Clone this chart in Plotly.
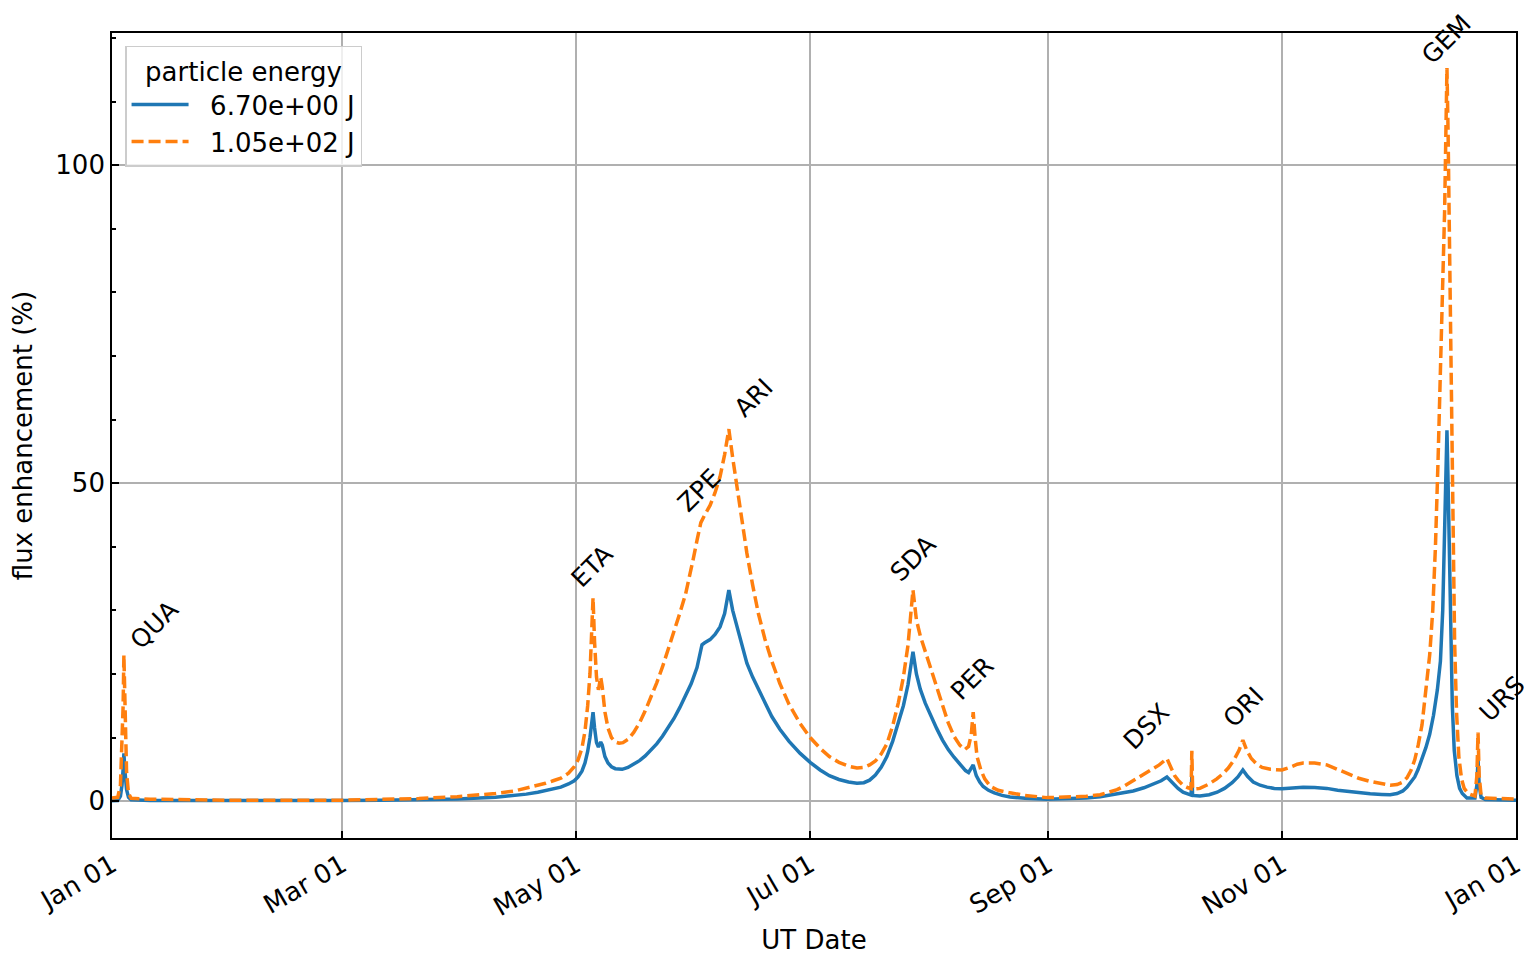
import pandas as pd
import plotly.graph_objects as go

# ---- data (day offset from 2024-01-01, value in %) ----
blue_days = [0, 1.5, 2.2, 2.6, 2.9, 3.1, 3.4, 3.8, 4.3, 5, 10, 30, 60, 70, 80, 90, 100, 105, 108, 111, 113, 115, 117,
             119, 120.5, 121.5, 122.5, 123.3, 124, 124.6, 125.0, 125.4, 125.8, 126.3, 126.8, 127.4, 127.8, 128.5,
             129.3, 130.2, 131.2, 132.2, 133, 134.5, 136, 137.6, 139, 140.5, 142, 143.5, 145, 146.5, 148, 149.5,
             151, 152.5, 153.8, 154.5, 155.9, 157.2, 158.5, 159.7, 160.8, 161.8, 162.9, 164.2, 165.5, 167, 168.5,
             170.2, 172, 174.1, 176.5, 179.4, 182, 184.6, 187, 189.5, 192, 194.2, 196, 197.5, 199, 200.5, 202,
             203.5, 205, 206.3, 207.5, 208.8, 209.7, 210.7, 212, 213.5, 215, 216.5, 218, 219.5, 221, 222.5, 223.3,
             224.5, 225.3, 226.2, 227.1, 228.5, 230, 232, 234.1, 238, 243.7, 250, 254, 257.6, 262, 266.2, 269,
             271.5, 273.5, 275, 276.3, 277.9, 279.2, 280.5, 281.3, 281.5, 281.7, 283.6, 286, 288.1, 290, 292, 293.5,
             294.8, 296, 297.5, 299.3, 301.1, 303, 305, 308, 310.5, 313.5, 316.7, 319.5, 322, 325, 328, 331, 333.2,
             335, 336.5, 337.6, 338.6, 339.6, 340.5, 341.5, 342.5, 343.5, 344.5, 345.5, 346.3, 346.9, 347.4, 347.8,
             348.0, 348.3, 348.6, 349.0, 349.4, 349.9, 350.6, 351.3, 352, 353.2, 355.3, 355.8, 356.1, 356.4, 356.9,
             358, 362, 366]
blue_vals = [0.05, 0.1, 0.8, 2.5, 5.0, 7.5, 4.5, 1.8, 0.6, 0.2, 0.1, 0.05, 0.1, 0.13, 0.2, 0.35, 0.6, 0.85, 1.1, 1.4,
             1.65, 1.9, 2.2,
             2.7, 3.2, 3.8, 4.7, 6.0, 7.8, 10.0, 12.0, 14.0, 11.5, 9.2, 8.5, 9.3, 8.8, 7.0,
             6.0, 5.4, 5.1, 5.0, 5.0, 5.3, 5.8, 6.4, 7.1, 8.0, 9.0, 10.2, 11.5, 13.0, 14.7, 16.5,
             18.5, 21.0, 24.6, 24.9, 25.4, 26.2, 27.4, 29.5, 33.2, 30.0, 27.4, 24.4, 21.7, 19.5, 17.6,
             15.6, 13.3, 11.3, 9.4, 7.5, 6.1, 4.9, 4.0, 3.4, 3.0, 2.8, 2.9, 3.3, 4.1, 5.3, 7.0,
             9.4, 12.3, 15.0, 18.3, 23.5, 20.0, 17.6, 15.4, 13.3, 11.4, 9.6, 8.1, 6.9, 5.8, 4.8, 4.5,
             5.7, 4.0, 3.0, 2.3, 1.7, 1.3, 0.9, 0.65, 0.45, 0.3, 0.35, 0.5, 0.7, 1.1, 1.6, 2.1,
             2.7, 3.2, 3.8, 2.9, 2.0, 1.4, 1.05, 0.95, 4.0, 0.9, 0.8, 1.0, 1.4, 2.0, 2.9, 3.8,
             4.9, 3.9, 3.0, 2.5, 2.2, 2.0, 1.95, 2.1, 2.2, 2.15, 2.0, 1.7, 1.5, 1.3, 1.15, 1.05, 1.0,
             1.2, 1.6, 2.2, 2.9, 3.8, 5.0, 6.6, 8.4, 10.5, 13.5, 17.5, 22.0, 30.0, 42.0, 53.0,
             58.3, 50.0, 38.0, 25.0, 15.0, 8.0, 4.0, 2.0, 1.2, 0.5, 0.5, 2.5, 6.6, 2.5, 0.6,
             0.25, 0.15, 0.15]

orange_days = [0, 1.5, 2.2, 2.6, 2.9, 3.1, 3.4, 3.8, 4.3, 5, 10, 30, 60, 70, 80, 90, 100, 105, 108, 111, 113, 115, 117,
               119, 120.5, 121.5, 122.5, 123.3, 124, 124.6, 125.0, 125.4, 125.8, 126.3, 126.8, 127.4, 127.8, 128.5,
               129.3, 130.2, 131.2, 132.2, 133.2, 134.5, 136, 137.6, 139, 140.5, 142, 143.5, 145, 146.5, 148, 149.5,
               150.5, 151.5, 152.5, 153.5, 154.5, 155.9, 157.2, 158.5, 159.7, 160.8, 161.8, 162.9, 164.2, 165.5,
               167, 168.5, 170.2, 172, 174.1, 176.5, 179.4, 182, 184.6, 187, 189.5, 192, 194.2, 196, 197.5, 199,
               200.5, 202, 203.5, 205, 206.3, 207.5, 208.8, 209.7, 210.7, 212, 213.5, 215, 216.5, 218, 219.5, 221,
               222.3, 223.3, 224, 224.5, 225.0, 225.5, 226.5, 227.5, 229, 231, 234.1, 238, 243.7, 250, 254, 257.6,
               260, 262, 264, 266.2, 268.5, 271, 273, 275, 276, 277, 277.9, 279.2, 280.5, 281.3, 281.5, 281.7, 283.6,
               286, 288, 289.6, 291, 292.5, 293.8, 294.8, 295.8, 297, 298.3, 299.8, 302, 305, 307, 309, 310.5, 313.5,
               316.7, 319.5, 322, 325, 328, 331, 333.2, 335, 336.5, 337.6, 338.6, 339.6, 340.5, 341.5, 342.5, 343.5,
               344.3, 345.0, 345.7, 346.3, 346.9, 347.4, 347.8, 348.0, 348.3, 348.6, 348.9, 349.2, 349.6, 350.0,
               350.5, 351.1, 351.8, 352.5, 353.5, 355.3, 355.8, 356.1, 356.4, 356.9, 358, 362, 366]
orange_vals = [0.5, 0.6, 2.5, 8.0, 15.0, 23.0, 13.0, 4.5, 1.2, 0.45, 0.3, 0.15, 0.15, 0.25, 0.4, 0.7, 1.2, 1.6, 2.0,
               2.5, 2.8, 3.2, 3.6,
               4.4, 5.4, 6.5, 8.3, 11.0, 15.0, 20.0, 26.0, 32.0, 25.0, 19.5, 17.5, 19.5, 18.0, 14.0,
               11.5, 10.0, 9.3, 9.1, 9.2, 9.7, 10.8, 12.4, 14.2, 16.3, 18.6, 21.1, 23.8, 26.7, 29.5, 32.5,
               35.0, 38.0, 41.0, 43.8, 45.0, 46.5, 48.5, 51.0, 54.5, 58.5, 54.0, 49.5, 44.0, 39.0,
               34.0, 29.5, 25.5, 22.0, 18.5, 15.2, 12.2, 10.0, 8.3, 7.0, 6.1, 5.5, 5.2, 5.3, 5.7, 6.3,
               7.4, 9.0, 11.8, 15.5, 19.5, 24.5, 33.2, 28.5, 26.0, 23.5, 21.0, 18.0, 15.0, 12.3, 10.2, 8.8,
               8.1, 8.6, 10.5, 14.0, 10.0, 7.0, 4.9, 3.5, 2.3, 1.7, 1.3, 0.9, 0.55, 0.6, 0.75, 1.0,
               1.4, 1.8, 2.4, 3.2, 4.0, 4.9, 5.7, 6.7, 5.2, 4.0, 3.3, 2.5, 2.1, 1.95, 7.9, 1.9, 2.0,
               2.7, 3.5, 4.3, 5.2, 6.5, 8.0, 9.6, 8.0, 6.7, 5.9, 5.3, 5.0, 4.9, 5.3, 5.8, 6.0, 6.0,
               5.7, 5.0, 4.3, 3.6, 3.1, 2.7, 2.5, 2.6, 3.0, 3.7, 4.8, 6.5, 8.8, 12.0, 17.0, 23.0,
               30.0, 40.0, 54.0, 68.0, 80.0, 93.0, 108.0, 115.3, 105.0, 90.0, 72.0, 55.0, 38.0, 25.0,
               14.0, 7.0, 3.5, 2.0, 1.2, 0.8, 4.0, 10.8, 4.0, 0.9, 0.5, 0.35, 0.3]

series_names = ["6.70e+00 J", "1.05e+02 J"]

shower_labels = ["QUA", "ETA", "ZPE", "ARI", "SDA", "PER", "DSX", "ORI", "GEM", "URS"]
label_days = [11.2, 125.1, 153.0, 167.4, 208.8, 224.2, 269.6, 294.8, 347.8, 362.4]
label_vals = [27.7, 36.9, 48.9, 63.4, 38.2, 19.3, 11.8, 14.8, 119.8, 16.2]

start = pd.Timestamp("2024-01-01")


def to_dates(days):
    return start + pd.to_timedelta(pd.Series(days, dtype=float), unit="D")


FONT = "DejaVu Sans"
FS = 26
NB = "\u00a0\u00a0"

fig = go.Figure()
fig.add_trace(go.Scatter(x=to_dates(blue_days), y=blue_vals, mode="lines", name=NB + series_names[0],
                         line=dict(color="#1f77b4", width=3.5)))
fig.add_trace(go.Scatter(x=to_dates(orange_days), y=orange_vals, mode="lines", name=NB + series_names[1],
                         line=dict(color="#ff7f0e", width=3.5, dash="12px,5px")))

lab_dates = to_dates(label_days)
for t, d, v in zip(shower_labels, lab_dates, label_vals):
    fig.add_annotation(x=d, y=v, text=t, showarrow=False, textangle=-45,
                       xanchor="center", yanchor="middle",
                       font=dict(family=FONT, size=25, color="black"))

# page body has an 8px margin, so the figure is drawn 8px smaller and offset
fig.update_layout(
    width=1524, height=947,
    margin=dict(l=104, r=16, t=25, b=117),
    paper_bgcolor="white", plot_bgcolor="white",
    font=dict(family=FONT, size=FS, color="black"),
    showlegend=True,
    legend=dict(
        x=0.0093, y=0.984, xanchor="left", yanchor="top",
        bgcolor="rgba(255,255,255,0.8)", bordercolor="#cccccc", borderwidth=1.5,
        title=dict(text="particle energy", side="top center", font=dict(family=FONT, size=FS)),
        font=dict(family=FONT, size=FS),
        itemwidth=57, tracegroupgap=0,
    ),
    xaxis=dict(
        range=["2024-01-01", "2025-01-01"], automargin=False,
        tick0="2024-01-01", dtick="M2", tickformat="%b %d",
        tickangle=-30, ticks="inside", ticklen=7, tickwidth=1.7, tickcolor="black",
        showline=True, linecolor="black", linewidth=1.7, mirror=True,
        showgrid=True, gridcolor="#b0b0b0", gridwidth=1.7,
        zeroline=False,
        title=dict(text="UT Date", font=dict(family=FONT, size=FS), standoff=10),
        tickfont=dict(family=FONT, size=FS),
    ),
    yaxis=dict(
        range=[-5.8, 120.8], automargin=False,
        tick0=0, dtick=50, ticks="inside", ticklen=7, tickwidth=1.7, tickcolor="black",
        minor=dict(ticks="inside", dtick=10, ticklen=4, tickwidth=1.5, tickcolor="black", showgrid=False),
        showline=True, linecolor="black", linewidth=1.7, mirror=True,
        showgrid=True, gridcolor="#b0b0b0", gridwidth=1.7,
        zeroline=False,
        title=dict(text="flux enhancement (%)", font=dict(family=FONT, size=FS), standoff=16),
        tickfont=dict(family=FONT, size=FS),
    ),
)

fig.write_html("out.html")
